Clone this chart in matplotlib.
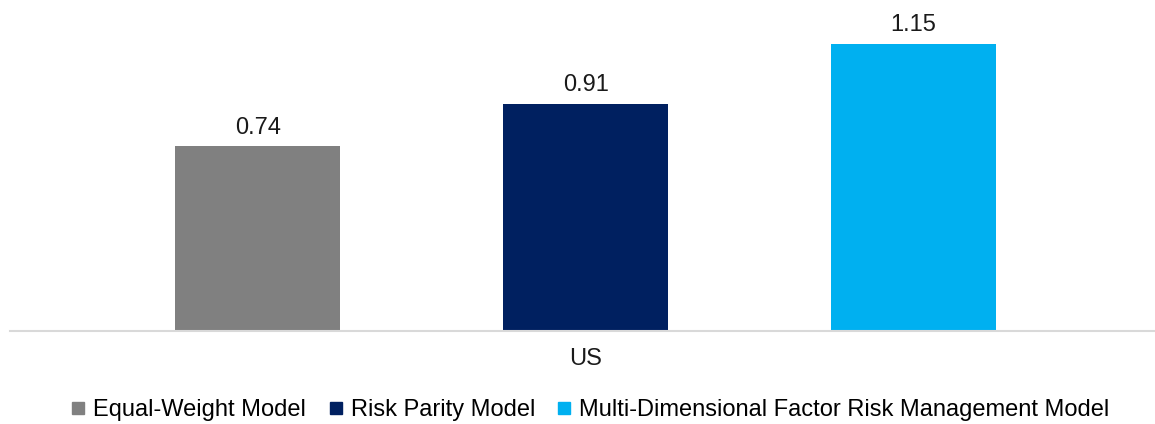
import matplotlib
matplotlib.use('Agg')
import matplotlib.pyplot as plt
from matplotlib.lines import Line2D

plt.rcParams['font.family'] = ['Liberation Sans', 'DejaVu Sans']

# chart data
categories = ['US']
models = ['Equal-Weight Model', 'Risk Parity Model',
          'Multi-Dimensional Factor Risk Management Model']
values = [0.74, 0.91, 1.15]
colors = ['#808080', '#002060', '#00B0F0']

FS = 17

fig = plt.figure(figsize=(11.55, 4.24), dpi=100)
ax = fig.add_axes([10 / 1155, 1 - 331 / 424, 1145 / 1155, 331 / 424])

bar_width = 0.503
n = len(models)
for i, (name, val, col) in enumerate(zip(models, values, colors)):
    x = i - (n - 1) / 2
    ax.bar(x, val, width=bar_width, color=col, label=name, zorder=2)
    ax.text(x, val + 0.03, f'{val:.2f}', ha='center', va='bottom',
            fontsize=FS, color='#1a1a1a')

ax.set_xlim(-1.755, 1.736)
ax.set_ylim(0, 1.325)
ax.set_xticks([0])
ax.set_xticklabels(categories, fontsize=FS, color='#1a1a1a')
ax.tick_params(axis='x', length=0, pad=12)
ax.set_yticks([])
for side in ['top', 'right', 'left']:
    ax.spines[side].set_visible(False)
ax.spines['bottom'].set_color('#d9d9d9')
ax.spines['bottom'].set_linewidth(1.5)
ax.spines['bottom'].set_zorder(3)

handles = [Line2D([], [], marker='s', linestyle='none', markersize=8,
                  markerfacecolor=c, markeredgecolor=c) for c in colors]
fig.legend(handles, models, loc='center', bbox_to_anchor=(591 / 1155, 1 - 410 / 424),
           ncol=3, frameon=False, fontsize=FS, handletextpad=0.38,
           columnspacing=1.0, handlelength=0.5, borderpad=0)

fig.savefig('out.png', dpi=100)
